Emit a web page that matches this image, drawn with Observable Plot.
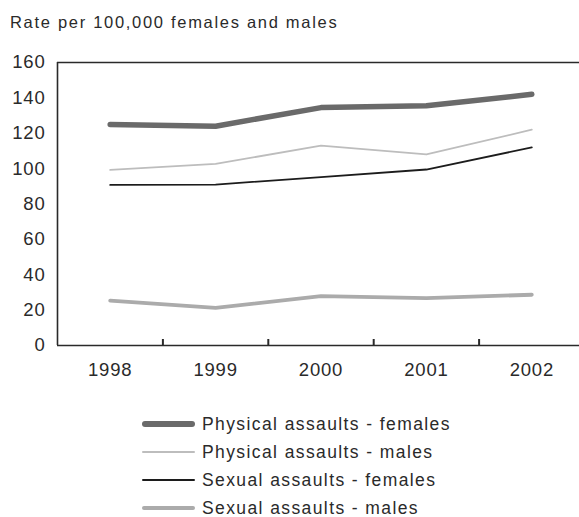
<!DOCTYPE html>
<html>
<head>
<meta charset="utf-8">
<script src="https://cdn.jsdelivr.net/npm/d3@7"></script>
<script src="https://cdn.jsdelivr.net/npm/@observablehq/plot@0.6"></script>
<style>
  html, body { margin: 0; padding: 0; background: #fff; overflow: hidden; }
  #wrap { width: 579px; font-family: "Liberation Sans", Arial, sans-serif; color: #2a2a2a; }
  #title { height: 40px; line-height: 44px; font-size: 16.5px; letter-spacing: 1.7px; padding-left: 10px; white-space: nowrap; }
  #legend { padding-top: 10px; }
  .row { height: 28px; display: flex; align-items: center; font-size: 17.5px; letter-spacing: 1.4px; white-space: nowrap; }
  .sw { width: 53px; margin-left: 142px; margin-right: 7px; border-radius: 3px; }
</style>
</head>
<body>
<div id="wrap">
  <div id="title">Rate per 100,000 females and males</div>
  <div id="chart"></div>
  <div id="legend"></div>
</div>
<script>
const years = [1998, 1999, 2000, 2001, 2002];
const seriesNames = ["Physical assaults - females", "Physical assaults - males", "Sexual assaults - females", "Sexual assaults - males"];
const physicalFemales = [125, 124, 134.5, 135.5, 142];
const physicalMales = [99.3, 102.7, 113, 108, 122];
const sexualFemales = [90.8, 91, 95.2, 99.5, 112];
const sexualMales = [25.4, 21.3, 27.9, 26.8, 28.7];
const yTicks = [0, 20, 40, 60, 80, 100, 120, 140, 160];

const seriesValues = [physicalFemales, physicalMales, sexualFemales, sexualMales];
const seriesColors = ["#6a6a6a", "#bdbdbd", "#1c1c1c", "#ababab"];
const seriesWidths = [5.5, 1.8, 1.8, 3.8];

const marks = [
  Plot.ruleY([0, 160], {stroke: "#2a2a2a", strokeWidth: 1.6}),
  Plot.ruleX([1997.5], {stroke: "#2a2a2a", strokeWidth: 1.6}),
  Plot.ruleX([1998.5, 1999.5, 2000.5, 2001.5], {y1: 0, y2: 3.4, stroke: "#2a2a2a", strokeWidth: 2}),
  Plot.axisY({ticks: yTicks, tickSize: 0, tickPadding: 12, fontSize: 18.5, label: null}),
  Plot.axisX({ticks: years, tickFormat: d => String(d), tickSize: 0, tickPadding: 17, fontSize: 18.5, label: null})
];
seriesNames.forEach((name, k) => {
  const data = years.map((yr, i) => ({year: yr, value: seriesValues[k][i]}));
  marks.push(Plot.line(data, {x: "year", y: "value", stroke: seriesColors[k], strokeWidth: seriesWidths[k], strokeLinejoin: "round", strokeLinecap: "round"}));
});
const chart = Plot.plot({
  width: 579,
  height: 360,
  marginTop: 22,
  marginBottom: 55,
  marginLeft: 57,
  marginRight: 0,
  x: {domain: [1997.5, 2002.5], range: [57, 584], axis: null, label: null},
  y: {domain: [0, 160], axis: null, label: null},
  style: {fontFamily: "Liberation Sans, Arial, sans-serif", letterSpacing: "0.8px", color: "#2a2a2a", background: "white", overflow: "hidden"},
  marks
});
document.getElementById("chart").appendChild(chart);

const legend = document.getElementById("legend");
seriesNames.forEach((name, k) => {
  const row = document.createElement("div");
  row.className = "row";
  const sw = document.createElement("span");
  sw.className = "sw";
  sw.style.height = seriesWidths[k] + "px";
  sw.style.background = seriesColors[k];
  const tx = document.createElement("span");
  tx.textContent = name;
  row.appendChild(sw);
  row.appendChild(tx);
  legend.appendChild(row);
});
</script>
</body>
</html>
